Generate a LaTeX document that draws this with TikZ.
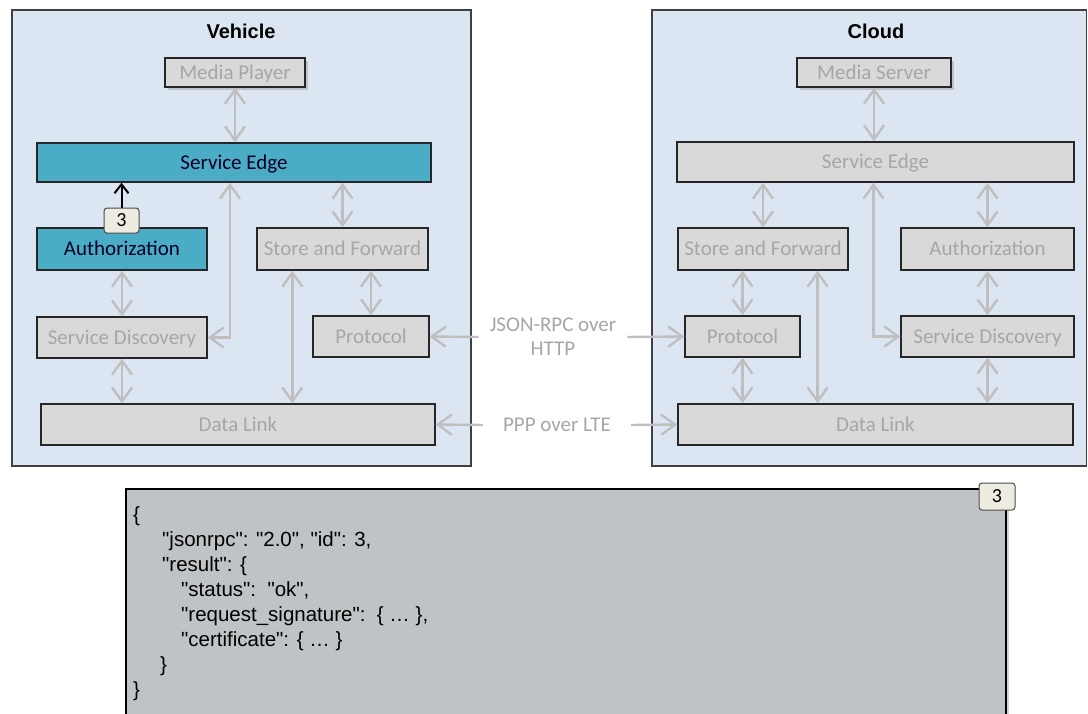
\documentclass[tikz,border=0pt]{standalone}
\usepackage{fontspec}
\setmainfont{Carlito}
\newfontfamily\arialfont{Liberation Sans}
\usetikzlibrary{arrows.meta,positioning,shadows}

\definecolor{panelblue}{HTML}{DCE6F2}
\definecolor{boxgray}{HTML}{D9D9D9}
\definecolor{boxtext}{HTML}{A6A6A6}
\definecolor{linkgray}{HTML}{BFBFBF}
\definecolor{activeteal}{HTML}{4BACC6}
\definecolor{badgecream}{HTML}{EEECE1}
\definecolor{jsongray}{HTML}{C0C3C6}

\tikzset{
  panel/.style={draw=black!75, line width=1.3pt, fill=panelblue},
  paneltitle/.style={font=\arialfont\bfseries\fontsize{20}{24}\selectfont},
  layer/.style={draw=black!85, line width=1.3pt, fill=boxgray, text=boxtext,
    font=\fontsize{21}{25}\selectfont, inner sep=0pt, text height=13pt, text depth=0pt},
  activelayer/.style={layer, fill=activeteal, text=black!85!blue},
  shadowed/.style={drop shadow={opacity=0.35, shadow xshift=3pt, shadow yshift=-3pt}},
  badge/.style={draw=black!70, line width=1pt, fill=badgecream, rounded corners=3pt,
    font=\fontsize{20}{24}\selectfont, inner sep=0pt},
  biarrow/.style={draw=linkgray, line width=2.4pt,
    {Straight Barb[length=14pt,width=20pt]}-{Straight Barb[length=14pt,width=20pt]}},
  toarrow/.style={draw=linkgray, line width=2.4pt, -{Straight Barb[length=14pt,width=20pt]}},
  linklabel/.style={text=boxtext, align=center, font=\fontsize{21}{24}\selectfont}
}

\begin{document}
\begin{tikzpicture}[x=1pt, y=-1pt]
\useasboundingbox (0,0) rectangle (1088,713);

% panels
\draw[panel] (12,10) rectangle (471,466);
\draw[panel] (652,10) rectangle (1086.5,466);
\node[paneltitle] (vtitle) at (241,31) {Vehicle};
\node[paneltitle] (ctitle) at (876,31) {Cloud};

% vehicle stack
\node[layer, shadowed, minimum width=140pt, minimum height=29pt] (vmedia) at (235,72.5) {Media Player};
\node[activelayer, minimum width=394pt, minimum height=39pt] (vedge) at (234,162.5) {Service Edge};
\node[activelayer, minimum width=170pt, minimum height=42pt] (vauth) at (122,249) {Authorization};
\node[layer, minimum width=171pt, minimum height=42pt] (vstore) at (342.5,249) {Store and Forward};
\node[layer, minimum width=170pt, minimum height=41pt] (vdisc) at (122,337.5) {Service Discovery};
\node[layer, minimum width=116pt, minimum height=41pt] (vproto) at (371,336.5) {Protocol};
\node[layer, minimum width=394pt, minimum height=41pt] (vlink) at (238,424.5) {Data Link};

\draw[biarrow] (vmedia.south) -- (vmedia.south |- vedge.north);
\draw[biarrow] (vstore.north) -- (vstore.north |- vedge.south);
\draw[biarrow] ([xshift=-4pt]vedge.south) |- (vdisc.east);
\draw[biarrow] (vauth.south) -- (vdisc.north);
\draw[biarrow] (vproto.north) -- (vproto.north |- vstore.south);
\draw[biarrow] ([xshift=36pt]vstore.south west) -- ([xshift=36pt]vstore.south west |- vlink.north);
\draw[biarrow] (vdisc.south) -- (vdisc.south |- vlink.north);

\node[badge, minimum width=35pt, minimum height=25pt] (vbadge) at (121.5,220.5) {3};
\draw[line width=2pt, -{Straight Barb[length=9pt,width=14pt]}] (vbadge.north) -- (vbadge.north |- vedge.south);

% cloud stack
\node[layer, shadowed, minimum width=154pt, minimum height=29pt] (cmedia) at (874,72.5) {Media Server};
\node[layer, minimum width=397pt, minimum height=40pt] (cedge) at (875.5,162) {Service Edge};
\node[layer, minimum width=170pt, minimum height=42pt] (cstore) at (763,249) {Store and Forward};
\node[layer, minimum width=173pt, minimum height=42pt] (cauth) at (987.5,249) {Authorization};
\node[layer, minimum width=115pt, minimum height=41pt] (cproto) at (742.5,336.5) {Protocol};
\node[layer, minimum width=173pt, minimum height=41pt] (cdisc) at (987.5,336.5) {Service Discovery};
\node[layer, minimum width=395pt, minimum height=41pt] (clink) at (875.5,424.5) {Data Link};

\draw[biarrow] (cmedia.south) -- (cmedia.south |- cedge.north);
\draw[biarrow] (cstore.north) -- (cstore.north |- cedge.south);
\draw[biarrow] (cauth.north) -- (cauth.north |- cedge.south);
\draw[biarrow] ([xshift=-2pt]cedge.south) |- (cdisc.west);
\draw[biarrow] (cproto.north) -- (cproto.north |- cstore.south);
\draw[biarrow] ([xshift=-31pt]cstore.south east) -- ([xshift=-31pt]cstore.south east |- clink.north);
\draw[biarrow] (cproto.south) -- (cproto.south |- clink.north);
\draw[biarrow] (cauth.south) -- (cdisc.north);
\draw[biarrow] (cdisc.south) -- (cdisc.south |- clink.north);

% links between the two sides
\node[linklabel, inner xsep=11pt] (rpclbl) at (553,337) {JSON-RPC over\\HTTP};
\node[linklabel, inner xsep=20pt] (ppplbl) at (557,425) {PPP over LTE};
\draw[toarrow] (rpclbl.west) -- (vproto.east);
\draw[toarrow] (rpclbl.east) -- (cproto.west);
\draw[toarrow] (ppplbl.west) -- (vlink.east);
\draw[toarrow] (ppplbl.east) -- (clink.west);

% message body
\node[draw=black, line width=2pt, fill=jsongray, shadowed, minimum width=880pt, minimum height=235pt,
  anchor=north west, inner sep=0pt] (jsonbox) at (125,488) {};
\node[anchor=north west, align=left, inner sep=0pt, font=\arialfont\fontsize{20.5}{25}\selectfont]
  (jsontext) at (133,506) {\{\\
\hspace*{29pt}"jsonrpc": "2.0", "id": 3,\\
\hspace*{29pt}"result": \{\\
\hspace*{48pt}"status":\ \ "ok",\\
\hspace*{48pt}"request\_signature":\ \ \{ \ldots\ \},\\
\hspace*{48pt}"certificate": \{ \ldots\ \}\\
\hspace*{27pt}\}\\
\}};
\node[badge, minimum width=36pt, minimum height=27pt] (jbadge) at (997,496.5) {3};
\end{tikzpicture}
\end{document}
